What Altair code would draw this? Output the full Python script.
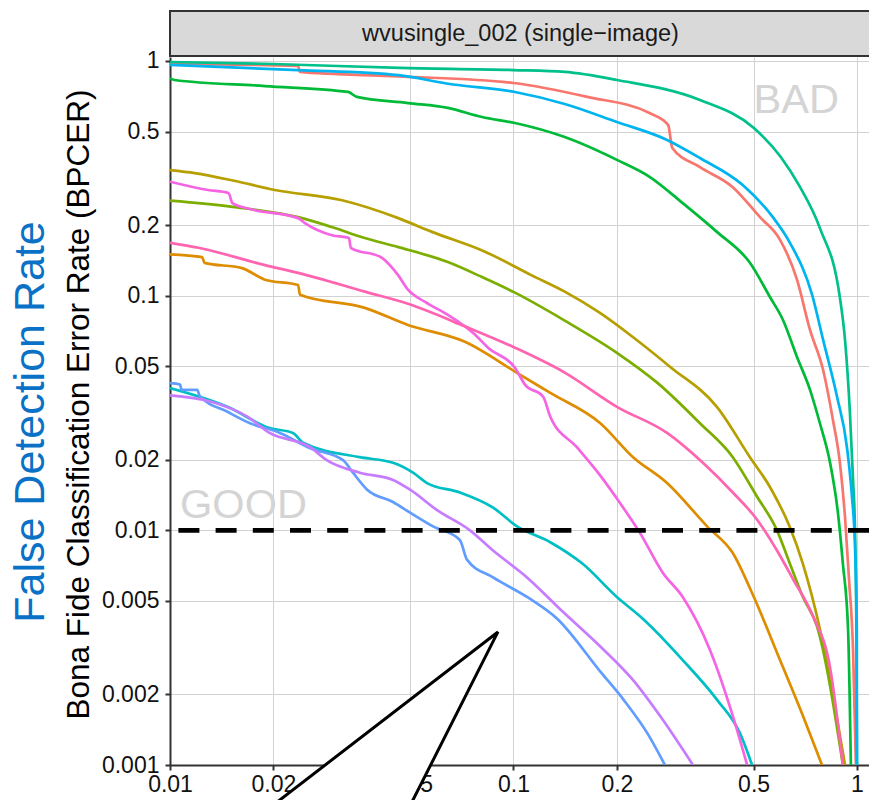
import altair as alt
import pandas as pd

# ---------------- data ----------------
series_names = ["alg01", "alg02", "alg03", "alg04", "alg05", "alg06",
                "alg07", "alg08", "alg09", "alg10", "alg11", "alg12"]
series_colors = ["#F8766D", "#DE8C00", "#B79F00", "#7CAE00", "#00BA38", "#00C08B",
                 "#00BFC4", "#00B4F0", "#619CFF", "#C77CFF", "#F564E3", "#FF64B0"]

x_alg01 = [0.01, 0.0236, 0.0239, 0.0462, 0.1, 0.164, 0.249, 0.282, 0.290, 0.349, 0.435,
           0.522, 0.597, 0.669, 0.730, 0.797, 0.851, 0.892, 0.923, 0.948, 0.974, 0.993]
y_alg01 = [0.971, 0.952, 0.898, 0.860, 0.806, 0.703, 0.600, 0.534, 0.426, 0.353, 0.290,
           0.216, 0.173, 0.117, 0.0714, 0.0482, 0.0296, 0.0194, 0.0114, 0.0062, 0.0031, 0.001]

x_alg02 = [0.01, 0.0124, 0.0126, 0.0162, 0.0189, 0.0236, 0.0239, 0.0369, 0.0493, 0.0722,
           0.1024, 0.128, 0.179, 0.223, 0.280, 0.366, 0.435, 0.498, 0.597, 0.696, 0.791]
y_alg02 = [0.150, 0.146, 0.138, 0.131, 0.117, 0.111, 0.101, 0.0887, 0.0750, 0.0636,
           0.0469, 0.0385, 0.0286, 0.0205, 0.0159, 0.0104, 0.0080, 0.0053, 0.0028, 0.00162, 0.001]

x_alg03 = [0.01, 0.0118, 0.0155, 0.0202, 0.0317, 0.0462, 0.0579, 0.0826, 0.113, 0.141,
           0.179, 0.223, 0.286, 0.391, 0.488, 0.558, 0.638, 0.696, 0.780, 0.923]
y_alg03 = [0.343, 0.333, 0.308, 0.282, 0.255, 0.214, 0.187, 0.154, 0.122, 0.104,
           0.0842, 0.0665, 0.0497, 0.0336, 0.0205, 0.0153, 0.0103, 0.0072, 0.0038, 0.001]

x_alg04 = [0.01, 0.0152, 0.0236, 0.0296, 0.0369, 0.0462, 0.0644, 0.081, 0.101, 0.141,
           0.2, 0.262, 0.349, 0.435, 0.512, 0.585, 0.638, 0.696, 0.765, 0.910]
y_alg04 = [0.254, 0.239, 0.216, 0.196, 0.176, 0.161, 0.139, 0.120, 0.103, 0.0783,
           0.0571, 0.0426, 0.0286, 0.0205, 0.0139, 0.0100, 0.0072, 0.0052, 0.0039, 0.001]

x_alg05 = [0.01, 0.0103, 0.0189, 0.0330, 0.0350, 0.0493, 0.0644, 0.081, 0.101, 0.141,
           0.2, 0.249, 0.311, 0.391, 0.488, 0.558, 0.609, 0.669, 0.730, 0.780,
           0.835, 0.880, 0.910, 0.942, 0.960]
y_alg05 = [0.846, 0.830, 0.782, 0.738, 0.703, 0.662, 0.631, 0.577, 0.544, 0.474,
           0.379, 0.321, 0.248, 0.187, 0.138, 0.0987, 0.0788, 0.0548, 0.0397, 0.0286,
           0.0194, 0.0119, 0.0072, 0.0038, 0.001]

x_alg06 = [0.01, 0.02, 0.0468, 0.1, 0.141, 0.2, 0.349, 0.501, 0.6, 0.683, 0.78,
           0.892, 0.923, 0.954, 0.974, 0.987, 0.996, 1.0]
y_alg06 = [0.990, 0.971, 0.934, 0.915, 0.898, 0.830, 0.682, 0.518, 0.390, 0.290, 0.194,
           0.098, 0.0648, 0.0316, 0.0164, 0.0100, 0.00365, 0.001]

x_alg07 = [0.01, 0.0147, 0.0195, 0.0228, 0.0244, 0.0357, 0.0446, 0.0510, 0.0560, 0.0698,
           0.0872, 0.1024, 0.128, 0.159, 0.2, 0.238, 0.311, 0.391, 0.456, 0.495]
y_alg07 = [0.0404, 0.0336, 0.0273, 0.0260, 0.0236, 0.0205, 0.0194, 0.0176, 0.0159, 0.0145,
           0.0125, 0.0104, 0.0089, 0.0072, 0.0052, 0.0042, 0.0028, 0.0019, 0.00137, 0.001]

x_alg08 = [0.01, 0.0236, 0.0462, 0.0644, 0.101, 0.141, 0.2, 0.280, 0.349, 0.465, 0.569,
           0.638, 0.740, 0.797, 0.875, 0.935, 0.967, 0.987, 0.999, 1.0]
y_alg08 = [0.962, 0.915, 0.870, 0.800, 0.738, 0.656, 0.550, 0.461, 0.386, 0.296, 0.216,
           0.168, 0.101, 0.0648, 0.0371, 0.0226, 0.0139, 0.0085, 0.0038, 0.001]

x_alg09 = [0.01, 0.0107, 0.0108, 0.0120, 0.0122, 0.0147, 0.0171, 0.0205, 0.0256, 0.0319,
           0.0341, 0.0375, 0.0446, 0.0500, 0.0583, 0.0698, 0.0732, 0.0872, 0.1095, 0.134,
           0.179, 0.209, 0.245, 0.276]
y_alg09 = [0.0424, 0.0418, 0.0397, 0.0397, 0.0374, 0.0320, 0.0286, 0.0263, 0.0224, 0.0199,
           0.0176, 0.0149, 0.0132, 0.0119, 0.0104, 0.0091, 0.0075, 0.0063, 0.0052, 0.0042,
           0.0025, 0.0019, 0.00137, 0.001]

x_alg10 = [0.01, 0.0131, 0.0168, 0.0195, 0.0256, 0.0286, 0.0357, 0.0446, 0.0500, 0.0599,
           0.0747, 0.0872, 0.1095, 0.137, 0.179, 0.223, 0.267, 0.333]
y_alg10 = [0.0376, 0.0354, 0.0305, 0.0260, 0.0226, 0.0199, 0.0176, 0.0164, 0.0149, 0.0122,
           0.0100, 0.0082, 0.0063, 0.0046, 0.0032, 0.0023, 0.00162, 0.001]

x_alg11 = [0.01, 0.0129, 0.0148, 0.0152, 0.0171, 0.0236, 0.0247, 0.0296, 0.0332, 0.0336,
           0.0414, 0.0462, 0.0493, 0.0553, 0.0644, 0.0772, 0.0843, 0.101, 0.108, 0.122,
           0.128, 0.153, 0.179, 0.204, 0.233, 0.272, 0.311, 0.373, 0.435, 0.479]
y_alg11 = [0.306, 0.282, 0.274, 0.248, 0.234, 0.214, 0.204, 0.181, 0.176, 0.160,
           0.145, 0.122, 0.106, 0.094, 0.0828, 0.0683, 0.0600, 0.0493, 0.0418, 0.0371,
           0.0305, 0.0226, 0.0171, 0.0131, 0.0098, 0.0066, 0.0052, 0.0031, 0.00162, 0.001]

x_alg12 = [0.01, 0.0121, 0.0189, 0.0236, 0.0369, 0.0493, 0.0722, 0.101, 0.141, 0.2,
           0.280, 0.356, 0.435, 0.512, 0.585, 0.651, 0.745, 0.835, 0.910]
y_alg12 = [0.168, 0.160, 0.135, 0.125, 0.104, 0.0923, 0.0740, 0.0600, 0.0470, 0.0336,
           0.0260, 0.0194, 0.0145, 0.0111, 0.0082, 0.0062, 0.0043, 0.0026, 0.001]

x_ticks = [0.01, 0.02, 0.05, 0.1, 0.2, 0.5, 1]
y_ticks = [0.001, 0.002, 0.005, 0.01, 0.02, 0.05, 0.1, 0.2, 0.5, 1]

threshold = [0.01]
label_text = ["GOOD", "BAD"]
label_x = [0.0107, 0.5]
label_y = [0.0113, 0.60]

# speech-bubble tail (annotation) in data coordinates
tail_y = [0.000644, 0.00369]
tail_x_left = [0.01916, 0.0901]
tail_x_right = [0.0493, 0.0901]

strip_label = "wvusingle_002 (single\u2212image)"
y_title = "Bona Fide Classification Error Rate (BPCER)"
overlay_title = "False Detection Rate"

# ---------------- build tables ----------------
all_x = [x_alg01, x_alg02, x_alg03, x_alg04, x_alg05, x_alg06,
         x_alg07, x_alg08, x_alg09, x_alg10, x_alg11, x_alg12]
all_y = [y_alg01, y_alg02, y_alg03, y_alg04, y_alg05, y_alg06,
         y_alg07, y_alg08, y_alg09, y_alg10, y_alg11, y_alg12]
rows = []
for name, xs, ys in zip(series_names, all_x, all_y):
    for i, (a, b) in enumerate(zip(xs, ys)):
        rows.append({"series": name, "fmr": a, "bpcer": b, "i": i})
df = pd.DataFrame(rows)

FONT = "Liberation Sans"
W, H = 699, 708
xscale = alt.Scale(type="log", domain=[0.01, 1.084], nice=False)
yscale = alt.Scale(type="log", domain=[0.001, 1.04], nice=False)

x_axis = alt.Axis(values=x_ticks, format="~g", title="", grid=True,
                  gridColor="#D2D2D2", gridWidth=1,
                  domainColor="#333333", domainWidth=2,
                  tickColor="#333333", tickWidth=2, tickSize=5,
                  labelFont=FONT, labelFontSize=23, labelColor="#111111",
                  labelPadding=3, labelFlush=False, labelOverlap=False)
y_axis = alt.Axis(values=y_ticks, format="~g", title=y_title, grid=True,
                  gridColor="#D2D2D2", gridWidth=1,
                  domainColor="#333333", domainWidth=2,
                  tickColor="#333333", tickWidth=2, tickSize=5,
                  labelFont=FONT, labelFontSize=23, labelColor="#111111",
                  labelPadding=6, labelOverlap=False,
                  titleFont=FONT, titleFontSize=31.5, titleFontWeight="normal",
                  titleColor="#000000", titleAngle=270, titleAlign="center",
                  titleBaseline="alphabetic", titleX=-82, titleY=347)

lines = alt.Chart(df).mark_line(strokeWidth=2.7, clip=True, interpolate="monotone").encode(
    x=alt.X("fmr:Q", scale=xscale, axis=x_axis),
    y=alt.Y("bpcer:Q", scale=yscale, axis=y_axis),
    color=alt.Color("series:N", scale=alt.Scale(domain=series_names, range=series_colors),
                    legend=None),
    order=alt.Order("i:Q"),
)

rule = alt.Chart(pd.DataFrame({"t": threshold})).mark_rule(
    color="black", strokeWidth=4.8, strokeDash=[21, 16.2]
).encode(y=alt.Y("t:Q", scale=yscale))

labels = alt.Chart(pd.DataFrame({"lx": label_x, "ly": label_y, "txt": label_text})).mark_text(
    align="left", baseline="alphabetic", font=FONT, fontSize=41.5, color="#D4D4D4"
).encode(x=alt.X("lx:Q", scale=xscale), y=alt.Y("ly:Q", scale=yscale), text="txt:N")

tail = alt.Chart(pd.DataFrame({"ty": tail_y, "tx1": tail_x_left, "tx2": tail_x_right})).mark_area(
    orient="horizontal", fill="white", stroke="black", strokeWidth=3, clip=False,
    strokeJoin="miter"
).encode(y=alt.Y("ty:Q", scale=yscale), x=alt.X("tx1:Q", scale=xscale), x2="tx2:Q")

one = pd.DataFrame({"k": [0]})
strip = alt.Chart(one).mark_rect(fill="#D9D9D9", stroke="#333333", strokeWidth=2).encode(
    x=alt.value(0), x2=alt.value(712), y=alt.value(-46), y2=alt.value(-1))
strip_txt = alt.Chart(one).mark_text(font=FONT, fontSize=23.5, color="#1A1A1A",
                                     baseline="middle", align="center").encode(
    x=alt.value(W / 2 + 1), y=alt.value(-23), text=alt.value(strip_label))

blue_title = alt.Chart(one).mark_text(font=FONT, fontSize=43, color="#0A72C6", angle=270,
                                      align="center", baseline="middle").encode(
    x=alt.value(-139), y=alt.value(365), text=alt.value(overlay_title))

chart = alt.layer(lines, rule, labels, tail, strip, strip_txt, blue_title).properties(
    width=W, height=H,
    autosize=alt.AutoSizeParams(type="none"),
    padding={"left": 170, "top": 57, "right": 0, "bottom": 35},
    background="white",
).configure_view(stroke="transparent")

chart.save("out.html", embed_options={"renderer": "svg", "actions": False})
